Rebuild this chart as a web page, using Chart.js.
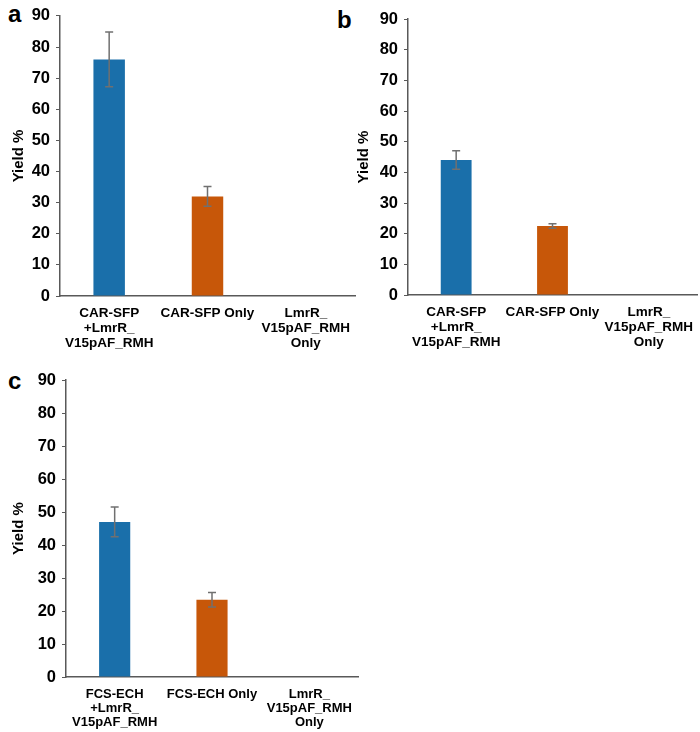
<!DOCTYPE html>
<html>
<head>
<meta charset="utf-8">
<script src="https://cdn.jsdelivr.net/npm/chart.js@4.4.1/dist/chart.umd.min.js"></script>
<style>
    body { margin: 0; background: #fff; width: 700px; height: 732px; position: relative; overflow: hidden; }
    .panel { position: absolute; }
    .letter { position: absolute; font-family: "Liberation Sans", Arial, sans-serif; font-weight: bold; font-size: 24px; color: #000; }
</style>
</head>
<body>
<div class="letter" style="left:8px; top:0px;">a</div>
<div class="letter" style="left:337px; top:6px;">b</div>
<div class="letter" style="left:8px; top:367px;">c</div>

<div class="panel" style="left:0px; top:0px; width:362px; height:372px;"><canvas id="chart-a"></canvas></div>
<div class="panel" style="left:345px; top:0px; width:355px; height:372px;"><canvas id="chart-b"></canvas></div>
<div class="panel" style="left:0px; top:362px; width:362px; height:370px;"><canvas id="chart-c"></canvas></div>

<script>
// categories
const labelsCAR = [["CAR-SFP", "+LmrR_", "V15pAF_RMH"], "CAR-SFP Only", ["LmrR_", "V15pAF_RMH", "Only"]];
const labelsFCS = [["FCS-ECH", "+LmrR_", "V15pAF_RMH"], "FCS-ECH Only", ["LmrR_", "V15pAF_RMH", "Only"]];

// yields (%) and error bars
const yieldA = [76, 32, 0];
const errA = [8.8, 3.2, 0];
const yieldB = [44, 22.5, 0];
const errB = [3, 0.7, 0];
const yieldC = [47, 23.4, 0];
const errC = [4.5, 2.2, 0];

const barColors = ["#1a6faa", "#c75709", "#7f7f7f"];
const axisColor = "#595959";
const fontFamily = "'Liberation Sans', Arial, sans-serif";

// draws error bars from the errors array attached to each dataset
const errorBarPlugin = {
    id: "errorBars",
    afterDatasetsDraw(chart) {
        const ctx = chart.ctx;
        const yScale = chart.scales.y;
        chart.data.datasets.forEach((ds, di) => {
            const meta = chart.getDatasetMeta(di);
            meta.data.forEach((bar, i) => {
                const err = ds.errors[i];
                if (!err) return;
                const top = yScale.getPixelForValue(ds.data[i] + err);
                const bottom = yScale.getPixelForValue(ds.data[i] - err);
                ctx.save();
                ctx.strokeStyle = "#707070";
                ctx.lineWidth = 1.5;
                ctx.beginPath();
                ctx.moveTo(bar.x, top);
                ctx.lineTo(bar.x, bottom);
                ctx.moveTo(bar.x - 4, top);
                ctx.lineTo(bar.x + 4, top);
                ctx.moveTo(bar.x - 4, bottom);
                ctx.lineTo(bar.x + 4, bottom);
                ctx.stroke();
                ctx.restore();
            });
        });
    }
};

function makeChart(canvasId, labels, values, errors, layout) {
    new Chart(document.getElementById(canvasId), {
        type: "bar",
        data: {
            labels: labels,
            datasets: [{
                data: values,
                errors: errors,
                backgroundColor: barColors,
                borderWidth: 0,
                barPercentage: 0.32,
                categoryPercentage: 1
            }]
        },
        options: {
            responsive: true,
            maintainAspectRatio: false,
            animation: false,
            layout: { padding: { top: layout.top, right: layout.right, left: 0, bottom: 0 } },
            plugins: {
                legend: { display: false },
                tooltip: { enabled: false }
            },
            scales: {
                x: {
                    grid: { display: false },
                    border: { display: true, color: axisColor, width: 1.5 },
                    ticks: {
                        color: "#000",
                        maxRotation: 0,
                        autoSkip: false,
                        padding: layout.labelPad,
                        font: { family: fontFamily, size: layout.labelSize, weight: "bold", lineHeight: 1.1 }
                    },
                    afterFit: (scale) => { scale.height = layout.xHeight; }
                },
                y: {
                    min: 0,
                    max: 90,
                    ticks: {
                        stepSize: 10,
                        color: "#000",
                        padding: 6,
                        font: { family: fontFamily, size: 16.5, weight: "bold" }
                    },
                    grid: { drawOnChartArea: false, drawTicks: true, tickLength: 4, color: axisColor },
                    border: { display: true, color: axisColor, width: 1.5 },
                    title: {
                        display: true,
                        text: "Yield %",
                        color: "#000",
                        padding: { top: 10, bottom: 0 },
                        font: { family: fontFamily, size: 15, weight: "bold" }
                    },
                    afterFit: (scale) => { scale.width = layout.yWidth; }
                }
            }
        },
        plugins: [errorBarPlugin]
    });
}

makeChart("chart-a", labelsCAR, yieldA, errA, { top: 11, right: 7, yWidth: 60, xHeight: 76, labelPad: 2, labelSize: 13.5 });
makeChart("chart-b", labelsCAR, yieldB, errB, { top: 19, right: 3, yWidth: 63, xHeight: 77, labelPad: 2, labelSize: 13.5 });
makeChart("chart-c", labelsFCS, yieldC, errC, { top: 18, right: 4, yWidth: 66, xHeight: 55, labelPad: 2, labelSize: 13 });
</script>
</body>
</html>
